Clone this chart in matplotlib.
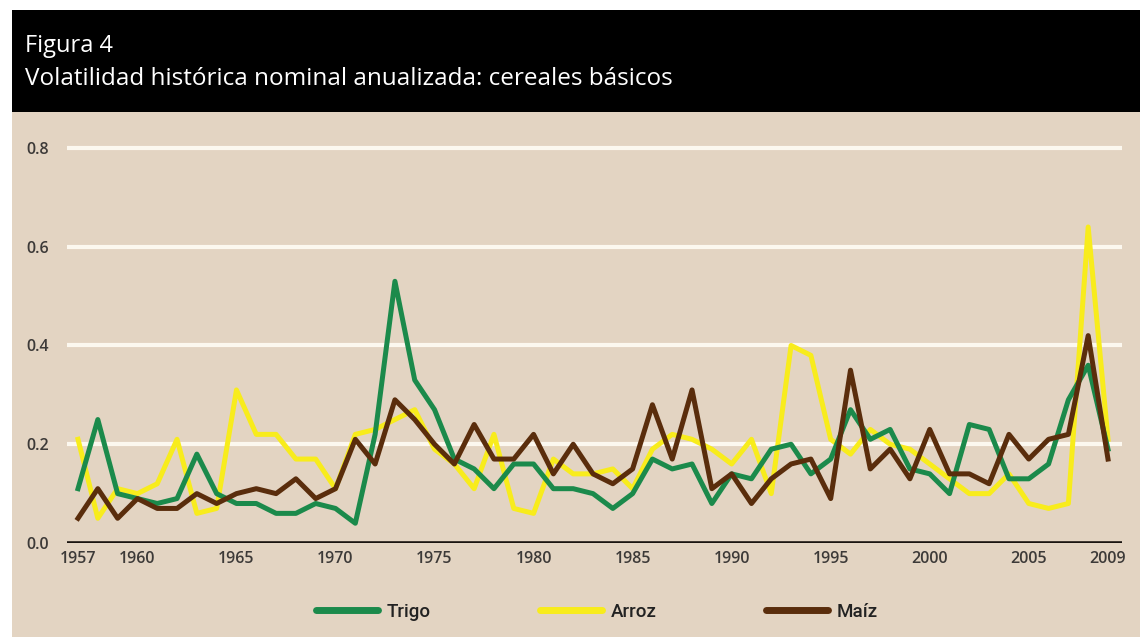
import matplotlib
matplotlib.use("Agg")
import matplotlib.pyplot as plt
from matplotlib.patches import Rectangle

years = list(range(1957, 2010))
trigo = [0.11, 0.25, 0.10, 0.09, 0.08, 0.09, 0.18, 0.10, 0.08, 0.08,
         0.06, 0.06, 0.08, 0.07, 0.04, 0.22, 0.53, 0.33, 0.27, 0.17,
         0.15, 0.11, 0.16, 0.16, 0.11, 0.11, 0.10, 0.07, 0.10, 0.17,
         0.15, 0.16, 0.08, 0.14, 0.13, 0.19, 0.20, 0.14, 0.17, 0.27,
         0.21, 0.23, 0.15, 0.14, 0.10, 0.24, 0.23, 0.13, 0.13, 0.16,
         0.29, 0.36, 0.19]
arroz = [0.21, 0.05, 0.11, 0.10, 0.12, 0.21, 0.06, 0.07, 0.31, 0.22,
         0.22, 0.17, 0.17, 0.11, 0.22, 0.23, 0.25, 0.27, 0.19, 0.16,
         0.11, 0.22, 0.07, 0.06, 0.17, 0.14, 0.14, 0.15, 0.11, 0.19,
         0.22, 0.21, 0.19, 0.16, 0.21, 0.10, 0.40, 0.38, 0.21, 0.18,
         0.23, 0.20, 0.19, 0.16, 0.13, 0.10, 0.10, 0.14, 0.08, 0.07,
         0.08, 0.64, 0.21]
maiz = [0.05, 0.11, 0.05, 0.09, 0.07, 0.07, 0.10, 0.08, 0.10, 0.11,
        0.10, 0.13, 0.09, 0.11, 0.21, 0.16, 0.29, 0.25, 0.20, 0.16,
        0.24, 0.17, 0.17, 0.22, 0.14, 0.20, 0.14, 0.12, 0.15, 0.28,
        0.17, 0.31, 0.11, 0.14, 0.08, 0.13, 0.16, 0.17, 0.09, 0.35,
        0.15, 0.19, 0.13, 0.23, 0.14, 0.14, 0.12, 0.22, 0.17, 0.21,
        0.22, 0.42, 0.17]
xticks = [1957, 1960, 1965, 1970, 1975, 1980, 1985, 1990, 1995, 2000, 2005, 2009]
yticks = [0.0, 0.2, 0.4, 0.6, 0.8]
series_names = ["Trigo", "Arroz", "Maíz"]
title_line1 = "Figura 4"
title_line2 = "Volatilidad histórica nominal anualizada: cereales básicos"

W, H = 1140, 643
BEIGE = "#e3d4c2"
GREEN = "#1b8a4b"
YELLOW = "#f8ec1c"
BROWN = "#5a2d0c"

fig = plt.figure(figsize=(W / 100, H / 100), dpi=100)
fig.patch.set_facecolor("white")

# panel background and header band (drawn beneath the axes)
fig.patches.append(Rectangle((12 / W, 1 - 637 / H), 1 - 12 / W, (637 - 112) / H,
                             transform=fig.transFigure, facecolor=BEIGE,
                             edgecolor="none", zorder=-2))
fig.patches.append(Rectangle((12 / W, 1 - 112 / H), 1 - 12 / W, (112 - 10) / H,
                             transform=fig.transFigure, facecolor="black",
                             edgecolor="none", zorder=-2))
fig.text(25 / W, 1 - 46 / H, title_line1, color="white", fontsize=17,
         family="Open Sans", va="center", ha="left")
fig.text(25 / W, 1 - 79 / H, title_line2, color="white", fontsize=17.5,
         family="Open Sans", va="center", ha="left")

ax = fig.add_axes([67 / W, 1 - 543 / H, (1122 - 67) / W, (543 - 140) / H])
ax.set_facecolor("none")
ax.set_xlim(1957 - 11 / 19.8, 2009 + 14 / 19.8)
ax.set_ylim(0, 0.8 + 8 / 495)

for yv in yticks[1:]:
    ax.axhline(yv, color="#fcf8ef", lw=3, zorder=1)
ax.axhline(0, color="#1a1410", lw=2.6, zorder=5)

lw = 3.6
l2, = ax.plot(years, arroz, color=YELLOW, lw=lw, zorder=2, label=series_names[1])
l1, = ax.plot(years, trigo, color=GREEN, lw=lw, zorder=3, label=series_names[0])
l3, = ax.plot(years, maiz, color=BROWN, lw=lw, zorder=4, label=series_names[2])

for s in ax.spines.values():
    s.set_visible(False)
ax.set_xticks(xticks)
ax.set_xticklabels([str(x) for x in xticks])
ax.set_yticks(yticks)
ax.set_yticklabels([f"{v:.1f}" for v in yticks])
ax.tick_params(length=0, labelsize=11.5, labelcolor="#3d3a38")
ax.tick_params(axis="x", pad=6)
ax.tick_params(axis="y", pad=13)
for lab in ax.get_xticklabels() + ax.get_yticklabels():
    lab.set_family("Open Sans")
    lab.set_fontweight("semibold")

leg = fig.legend([l1, l2, l3], series_names, loc="center",
                 bbox_to_anchor=(597 / W, 1 - 612 / H), ncol=3, frameon=False,
                 handlelength=3.3, handletextpad=0.5, columnspacing=5.8,
                 prop={"family": "Roboto", "size": 13.5, "weight": "medium"})
for t in leg.get_texts():
    t.set_color("#222222")
for h in leg.legend_handles:
    h.set_linewidth(5)
    h.set_solid_capstyle("round")

fig.savefig("out.png", dpi=100)
